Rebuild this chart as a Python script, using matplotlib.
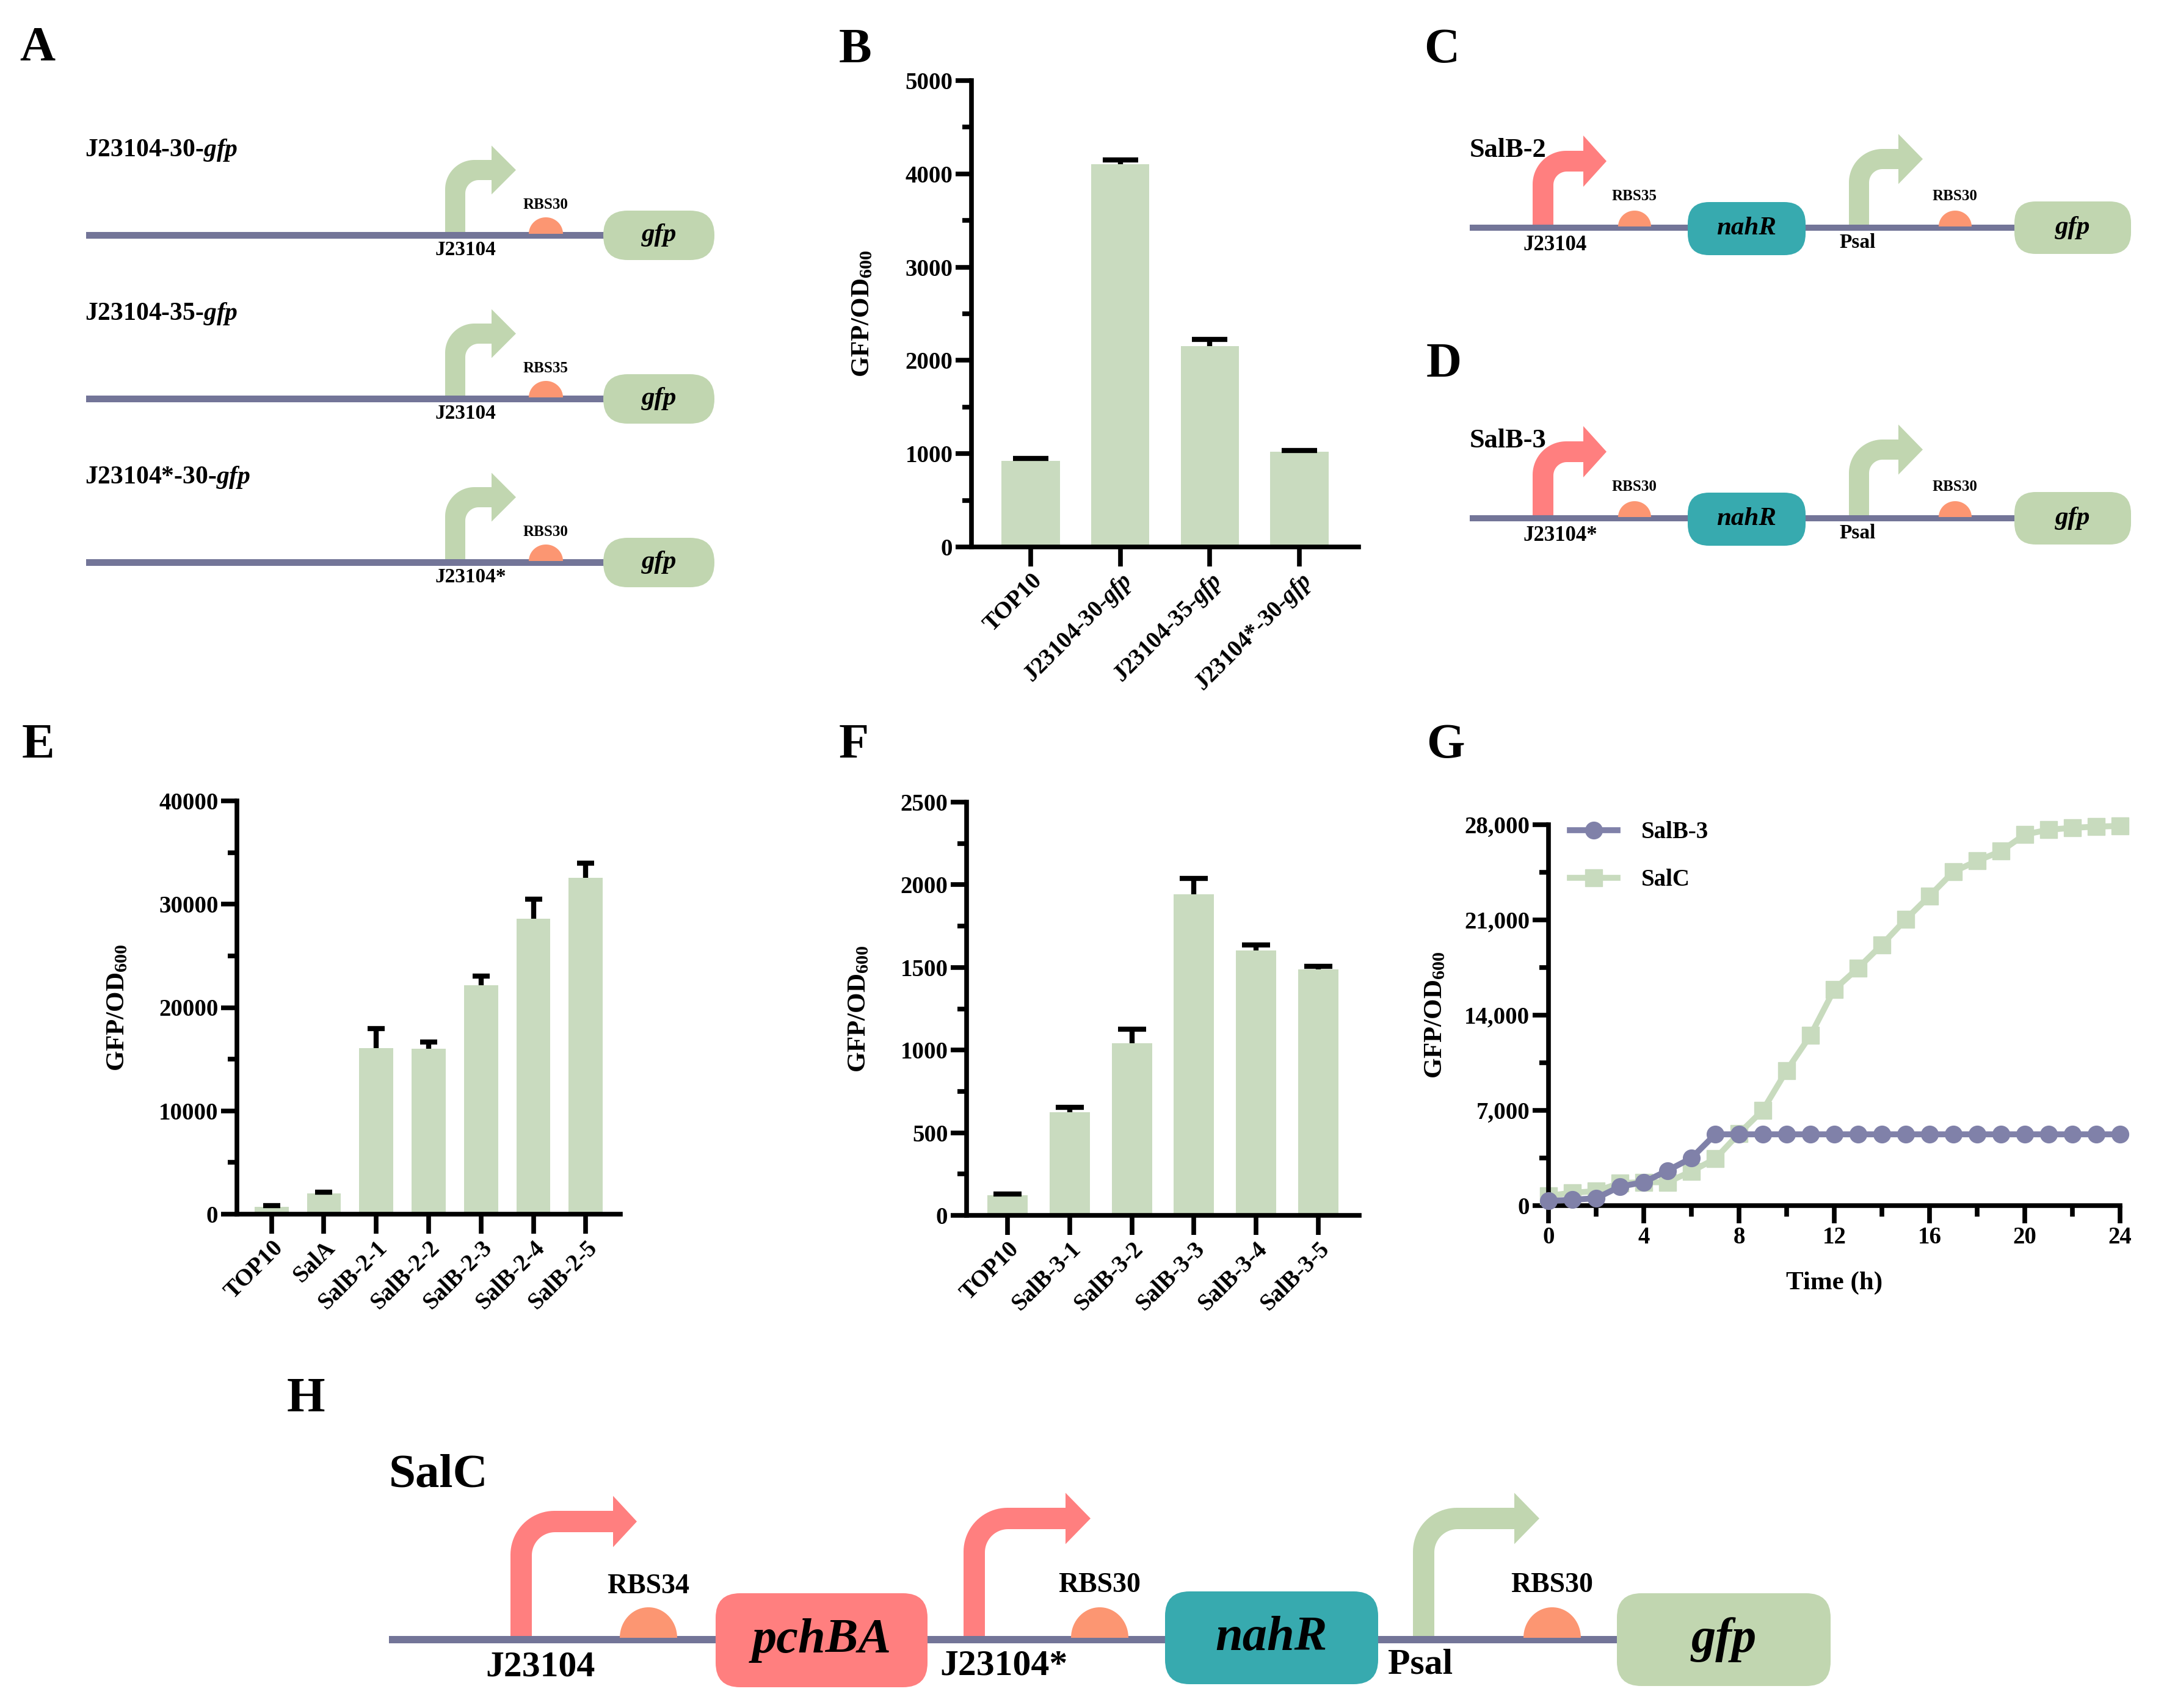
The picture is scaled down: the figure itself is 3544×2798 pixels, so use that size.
import numpy as np
import matplotlib.pyplot as plt
from matplotlib.patches import FancyBboxPatch, Polygon, Rectangle
from matplotlib.ticker import MultipleLocator, FuncFormatter

plt.rcParams['font.family'] = 'Liberation Serif'
plt.rcParams['font.weight'] = 'bold'
plt.rcParams['axes.labelweight'] = 'bold'
plt.rcParams['mathtext.fontset'] = 'custom'
plt.rcParams['mathtext.rm'] = 'Liberation Serif:bold'
plt.rcParams['mathtext.it'] = 'Liberation Serif:italic:bold'
plt.rcParams['mathtext.bf'] = 'Liberation Serif:bold'

W, H = 3544, 2798
DPI = 100

# ---- data ----
b_labels = ['TOP10', r'J23104-30-$\mathit{gfp}$', r'J23104-35-$\mathit{gfp}$', r'J23104*-30-$\mathit{gfp}$']
b_values = [920, 4105, 2155, 1020]
b_errors = [30, 45, 70, 12]

e_labels = ['TOP10', 'SalA', 'SalB-2-1', 'SalB-2-2', 'SalB-2-3', 'SalB-2-4', 'SalB-2-5']
e_values = [700, 2030, 16080, 16000, 22180, 28590, 32580]
e_errors = [120, 120, 1880, 650, 870, 1880, 1400]

f_labels = ['TOP10', 'SalB-3-1', 'SalB-3-2', 'SalB-3-3', 'SalB-3-4', 'SalB-3-5']
f_values = [122, 624, 1040, 1942, 1601, 1488]
f_errors = [8, 30, 85, 95, 35, 20]

g_time = list(range(25))
g_salb3 = [340, 430, 540, 1400, 1720, 2580, 3490, 5240, 5240, 5240, 5240, 5240, 5240,
           5240, 5240, 5240, 5240, 5240, 5240, 5240, 5240, 5240, 5240, 5240, 5240]
g_salc = [720, 950, 1060, 1660, 1720, 1720, 2520, 3440, 5300, 7010, 9930, 12510, 15890,
          17460, 19180, 21040, 22760, 24540, 25340, 26050, 27280, 27630, 27770, 27860, 27910]
g_series = ['SalB-3', 'SalC']

a_titles = [r'J23104-30-$\mathit{gfp}$', r'J23104-35-$\mathit{gfp}$', r'J23104*-30-$\mathit{gfp}$']
a_promoters = ['J23104', 'J23104', 'J23104*']
a_rbs = ['RBS30', 'RBS35', 'RBS30']
cd_titles = ['SalB-2', 'SalB-3']
cd_promoters = ['J23104', 'J23104*']
cd_rbs = ['RBS35', 'RBS30']

# ---- colours ----
BAR = '#C9DBBF'
DNA = '#737598'
GREEN = '#C1D6B0'
RED = '#FF7F7F'
TEAL = '#37AAAF'
RBS = '#FC9672'
SALB = '#8081A9'
SALC = '#C8DBBE'

TICK_FS = 28
LAB_FS = 31

fig = plt.figure(figsize=(W / DPI, H / DPI), dpi=DPI)

# overlay in pixel coordinates for the construct drawings
ax_d = fig.add_axes([0, 0, 1, 1])
ax_d.set_xlim(0, W)
ax_d.set_ylim(H, 0)
ax_d.axis('off')


def add_axes_px(left, top, right, bottom):
    return fig.add_axes([left / W, 1 - bottom / H, (right - left) / W, (bottom - top) / H])


def arc(cx, cy, r, a0, a1, n=24):
    a = np.radians(np.linspace(a0, a1, n))
    return np.column_stack([cx + r * np.cos(a), cy + r * np.sin(a)])


def promoter(xl, ybase, yt, w, xh, hl, hh, R, r, color):
    xr = xl + w
    yb = yt + w
    yc = yt + w / 2
    pts = [[xl, ybase]]
    pts += arc(xl + R, yt + R, R, 180, 270).tolist()
    pts += [[xh, yt], [xh, yc - hh], [xh + hl, yc], [xh, yc + hh], [xh, yb]]
    pts += arc(xr + r, yb + r, r, 270, 180).tolist()
    pts += [[xr, ybase]]
    ax_d.add_patch(Polygon(pts, closed=True, color=color, lw=0, zorder=1))


def dna(x0, x1, y, t):
    ax_d.add_patch(Rectangle((x0, y - t / 2), x1 - x0, t, color=DNA, lw=0, zorder=2))


def dome(cx, base, hw, h):
    a = np.linspace(0, np.pi, 40)
    pts = np.column_stack([cx + hw * np.cos(a), base - h * np.sin(a)])
    ax_d.add_patch(Polygon(pts, closed=True, color=RBS, lw=0, zorder=3))


def gene(x0, x1, y0, y1, rs, color, name, size):
    ax_d.add_patch(FancyBboxPatch((x0, y0), x1 - x0, y1 - y0,
                                  boxstyle=f'round,pad=0,rounding_size={rs}',
                                  color=color, lw=0, zorder=3))
    ax_d.text((x0 + x1) / 2, (y0 + y1) / 2, name, style='italic', weight='bold',
              ha='center', va='center', fontsize=size, zorder=4)


def label(x, y, s, size, ha='left', va='center'):
    ax_d.text(x, y, s, fontsize=size, ha=ha, va=va, weight='bold', zorder=4)


# panel A
for i, y in enumerate([385, 653, 921]):
    label(139, y - 129, a_titles[i], 30, va='baseline')
    promoter(729, y, y - 123, 33, 805, 40, 40, 48, 22, GREEN)
    dna(141, 1000, y, 11)
    label(713, y + 25, a_promoters[i], 24)
    dome(894, y - 2, 28, 27)
    label(894, y - 50, a_rbs[i], 18, ha='center')
    gene(988, 1170, y - 40, y + 41, 40, GREEN, 'gfp', 31)

# panels C and D
for i, y in enumerate([373, 849]):
    label(2407, y - 116, cd_titles[i], 32, va='baseline')
    promoter(2510, y, y - 126, 34, 2593, 38, 42, 55, 22, RED)
    promoter(3028, y, y - 129, 33, 3109, 40, 41, 55, 22, GREEN)
    dna(2407, 3310, y, 10)
    label(2494, y + 28, cd_promoters[i], 25)
    dome(2677, y - 2, 27, 26)
    label(2677, y - 52, cd_rbs[i], 18, ha='center')
    gene(2764, 2957, y - 42, y + 45, 35, TEAL, 'nahR', 31)
    label(3012, y + 25, 'Psal', 24)
    dome(3202, y - 2, 27, 26)
    label(3202, y - 52, 'RBS30', 18, ha='center')
    gene(3299, 3490, y - 43, y + 43, 35, GREEN, 'gfp', 31)

# panel H
yh = 2686
label(637, 2436, 'SalC', 57, va='baseline')
promoter(836, yh, 2475, 35, 1004, 39, 42, 72, 38, RED)
promoter(1578, yh, 2470, 35, 1745, 41, 42, 72, 38, RED)
promoter(2314, yh, 2470, 35, 2480, 41, 42, 72, 38, GREEN)
dna(637, 2660, yh, 12)
label(795, 2731, 'J23104', 43)
dome(1062, yh - 3, 47, 50)
label(1062, 2599, 'RBS34', 33, ha='center')
gene(1172, 1519, 2610, 2764, 40, RED, 'pchBA', 58)
label(1539, 2729, 'J23104*', 43)
dome(1801, yh - 3, 47, 50)
label(1801, 2597, 'RBS30', 33, ha='center')
gene(1908, 2257, 2607, 2759, 40, TEAL, 'nahR', 58)
label(2273, 2727, 'Psal', 43)
dome(2542, yh - 3, 47, 50)
label(2542, 2597, 'RBS30', 33, ha='center')
gene(2648, 2998, 2610, 2762, 40, GREEN, 'gfp', 58)

# panel letters
for s, x, y in [('A', 32, 99), ('B', 1374, 102), ('C', 2332, 102), ('D', 2336, 617),
                ('E', 36, 1241), ('F', 1374, 1241), ('G', 2336, 1241), ('H', 470, 2312)]:
    ax_d.text(x, y, s, fontsize=58, weight='bold', ha='left', va='baseline')


def style_axes(ax):
    for side in ['top', 'right']:
        ax.spines[side].set_visible(False)
    for side in ['left', 'bottom']:
        ax.spines[side].set_linewidth(5.5)
    ax.tick_params(axis='y', which='major', length=19, width=5.5, labelsize=TICK_FS, pad=3)
    ax.tick_params(axis='y', which='minor', length=11, width=5.5)
    ax.tick_params(axis='x', which='major', length=23, width=5.5, labelsize=TICK_FS)
    ax.patch.set_alpha(0)


def bar_panel(box, labels, values, errors, ymax, major, cap_w, ylab_x):
    ax = add_axes_px(*box)
    x = np.arange(len(values))
    tops = np.array(values) + np.array(errors)
    ax.bar(x, values, width=0.65, color=BAR, zorder=1)
    # upper error bars only: stem plus a cap at the top
    ax.errorbar(x, values, yerr=[np.zeros(len(errors)), errors], fmt='none', ecolor='black',
                elinewidth=6, capsize=0, zorder=2)
    ax.plot(x, tops, ls='none', marker='_', ms=cap_w, mew=6, color='black', zorder=3)
    ax.set_xlim(-0.66, len(values) - 0.34)
    ax.set_ylim(0, ymax)
    ax.yaxis.set_major_locator(MultipleLocator(major))
    ax.yaxis.set_minor_locator(MultipleLocator(major / 2))
    ax.set_xticks(x)
    ax.set_xticklabels(labels, rotation=45, ha='right', rotation_mode='anchor')
    style_axes(ax)
    ax.set_ylabel(r'GFP/OD$_{600}$', fontsize=LAB_FS)
    ax.yaxis.set_label_coords((ylab_x - box[0]) / (box[2] - box[0]), 0.5)
    return ax


bar_panel((1591, 132, 2225, 896), b_labels, b_values, b_errors, 5000, 1000, 42, 1432)
bar_panel((388, 1312, 1016, 1989), e_labels, e_values, e_errors, 40000, 10000, 20, 212)
bar_panel((1583, 1314, 2226, 1991), f_labels, f_values, f_errors, 2500, 500, 33, 1426)

# panel G
gbox = (2536, 1351, 3472, 1975)
ax = add_axes_px(*gbox)
ax.plot(g_time, g_salc, color=SALC, marker='s', ms=20, lw=7, label=g_series[1],
        clip_on=False, zorder=2)
ax.plot(g_time, g_salb3, color=SALB, marker='o', ms=20, lw=7, label=g_series[0],
        clip_on=False, zorder=3)
ax.set_xlim(0, 24)
ax.set_ylim(0, 28000)
ax.xaxis.set_major_locator(MultipleLocator(4))
ax.xaxis.set_minor_locator(MultipleLocator(2))
ax.yaxis.set_major_locator(MultipleLocator(7000))
ax.yaxis.set_minor_locator(MultipleLocator(3500))
ax.yaxis.set_major_formatter(FuncFormatter(lambda v, p: f'{int(v):,}'))
style_axes(ax)
ax.tick_params(axis='x', which='major', length=21)
ax.tick_params(axis='x', which='minor', length=13, width=5.5)
ax.set_xlabel('Time (h)', fontsize=LAB_FS, labelpad=26)
ax.set_ylabel(r'GFP/OD$_{600}$', fontsize=LAB_FS)
ax.yaxis.set_label_coords((2370 - gbox[0]) / (gbox[2] - gbox[0]), 0.5)
handles, labs = ax.get_legend_handles_labels()
ax.legend(handles[::-1], labs[::-1], loc='upper left', bbox_to_anchor=(0.0, 1.065),
          frameon=False, fontsize=TICK_FS, handlelength=2.0, handletextpad=1.0,
          labelspacing=1.05)

fig.savefig('out.png', dpi=DPI)
